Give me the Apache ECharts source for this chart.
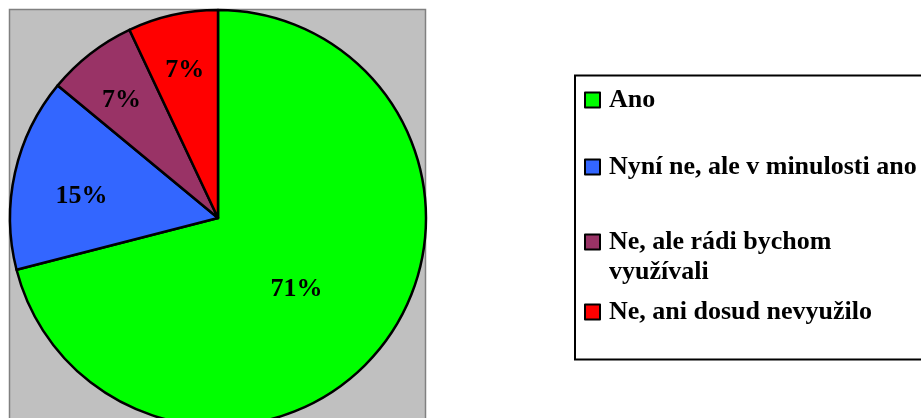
<!DOCTYPE html>
<html>
<head>
<meta charset="utf-8">
<script src="https://cdn.jsdelivr.net/npm/echarts@6/dist/echarts.min.js"></script>
<style>html,body{margin:0;padding:0;background:#fff;}#chart{width:921px;height:418px;}</style>
</head>
<body>
<div id="chart"></div>
<script>
const categories = ['Ano', 'Nyní ne, ale v minulosti ano', 'Ne, ale rádi bychom využívali', 'Ne, ani dosud nevyužilo'];
const legendLabels = ['Ano', 'Nyní ne, ale v minulosti ano', ' \nNe, ale rádi bychom\nvyužívali', 'Ne, ani dosud nevyužilo'];
const values = [71, 15, 7, 7];
const colors = ['#00FF00', '#3366FF', '#993366', '#FF0000'];
const labelShift = [[-6, 6], [-32, 2], [-31, -33], [-10, -43]];
const legendTops = [85, 152, 197, 297];

const FONT = "'Liberation Serif', 'Times New Roman', serif";
const chart = echarts.init(document.getElementById('chart'), null, {renderer: 'canvas'});

const legends = categories.map((c, i) => ({
  show: true,
  orient: 'vertical',
  left: 584,
  top: legendTops[i],
  padding: 0,
  itemWidth: 15,
  itemHeight: 15,
  icon: 'rect',
  selectedMode: false,
  data: [{name: c}],
  formatter: () => legendLabels[i],
  itemStyle: {borderColor: '#000', borderWidth: 2},
  textStyle: {
    fontFamily: FONT, fontWeight: 'bold', fontSize: 26, color: '#000',
    lineHeight: 30,
    padding: [0, 0, 0, 4]
  }
}));

chart.setOption({
  animation: false,
  backgroundColor: '#fff',
  color: colors,
  graphic: [
    {type: 'rect', z: 0, shape: {x: 9.5, y: 9.5, width: 416, height: 430}, style: {fill: '#C0C0C0', stroke: '#808080', lineWidth: 1.5}},
    {type: 'rect', z: 0, shape: {x: 575, y: 75.5, width: 360, height: 284}, style: {fill: '#fff', stroke: '#000', lineWidth: 2}}
  ],
  legend: legends,
  series: [{
    type: 'pie',
    center: [218, 218],
    radius: 208,
    startAngle: 90,
    clockwise: true,
    avoidLabelOverlap: false,
    itemStyle: {borderColor: '#000', borderWidth: 2.5},
    label: {
      show: true,
      position: 'inside',
      formatter: '{c}%',
      fontFamily: FONT, fontWeight: 'bold', fontSize: 26, color: '#000'
    },
    labelLine: {show: false},
    emphasis: {disabled: true},
    data: categories.map((c, i) => ({
      name: c, value: values[i],
      label: {offset: labelShift[i]}
    }))
  }]
});
</script>
</body>
</html>
